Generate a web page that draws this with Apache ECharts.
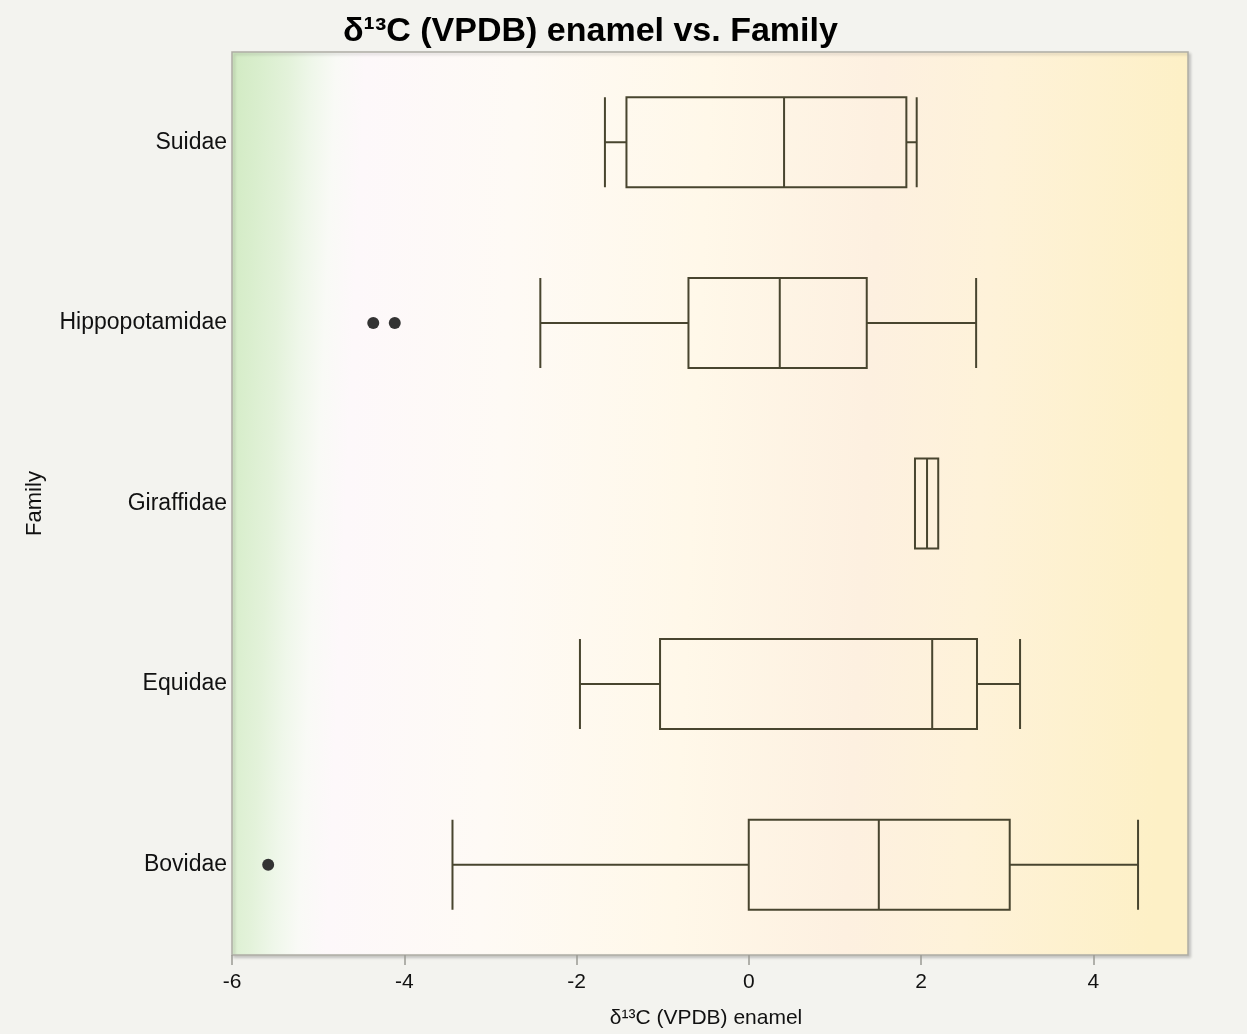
<!DOCTYPE html>
<html>
<head>
<meta charset="utf-8">
<title>δ13C (VPDB) enamel vs. Family</title>
<script src="https://cdn.jsdelivr.net/npm/echarts@6/dist/echarts.min.js"></script>
<style>
  html, body { margin: 0; padding: 0; background: #f3f3ef; }
  #chart { width: 1247px; height: 1034px; }
</style>
</head>
<body>
<div id="chart"></div>
<script>
// Families, listed bottom to top on the category axis
const families = ['Bovidae', 'Equidae', 'Giraffidae', 'Hippopotamidae', 'Suidae'];

// Five-number summaries of δ13C (VPDB) enamel per family
const lowerWhisker = [-3.44, -1.96, 1.93, -2.42, -1.67];
const quartile1    = [ 0.00, -1.03, 1.93, -0.70, -1.42];
const medianValue  = [ 1.51,  2.13, 2.07,  0.36,  0.41];
const quartile3    = [ 3.03,  2.65, 2.20,  1.37,  1.83];
const upperWhisker = [ 4.52,  3.15, 2.20,  2.64,  1.95];

// Outlying samples: [value, family]
const outlierValues   = [-5.58, -4.36, -4.11];
const outlierFamilies = ['Bovidae', 'Hippopotamidae', 'Hippopotamidae'];

// Axis ticks
const xTicks = { min: -6, max: 5.1, step: 2 };

const boxData = families.map((f, i) => [
  lowerWhisker[i], quartile1[i], medianValue[i], quartile3[i], upperWhisker[i]
]);
const outlierData = outlierValues.map((v, i) => [v, outlierFamilies[i]]);

const font = "'Liberation Sans', Arial, Helvetica, sans-serif";

const chart = echarts.init(document.getElementById('chart'));
chart.setOption({
  backgroundColor: '#f3f3ef',
  animation: false,
  title: {
    text: 'δ¹³C (VPDB) enamel vs. Family',
    left: 338,
    top: 10,
    textStyle: { fontFamily: font, fontSize: 34, fontWeight: 'bold', color: '#000' }
  },
  grid: {
    left: 232, right: 59, top: 52, bottom: 77,
    show: true,
    borderColor: '#aeada5',
    borderWidth: 1.5,
    shadowColor: 'rgba(0,0,0,0.18)',
    shadowBlur: 3,
    shadowOffsetX: 2,
    shadowOffsetY: 2,
    backgroundColor: {
      type: 'linear', x: 0, y: 0, x2: 1, y2: 0.046,
      colorStops: [
        { offset: 0.00, color: '#d1eac2' },
        { offset: 0.03, color: '#d9eecd' },
        { offset: 0.06, color: '#e3f2da' },
        { offset: 0.085, color: '#eff7ea' },
        { offset: 0.11, color: '#f9faf6' },
        { offset: 0.14, color: '#fdf8fa' },
        { offset: 0.30, color: '#fefaf5' },
        { offset: 0.50, color: '#fff8e9' },
        { offset: 0.68, color: '#fdf0e0' },
        { offset: 0.80, color: '#fef2d9' },
        { offset: 1.00, color: '#fdf0c6' }
      ]
    }
  },
  xAxis: {
    type: 'value',
    min: xTicks.min,
    max: xTicks.max,
    interval: xTicks.step,
    name: 'δ¹³C (VPDB) enamel',
    nameLocation: 'middle',
    nameGap: 53,
    nameTextStyle: { fontFamily: font, fontSize: 21, color: '#111', padding: [0, 8, 0, 0] },
    axisLine: { show: false },
    axisTick: { show: true, length: 10, lineStyle: { color: '#9a9a94', width: 1.5 } },
    axisLabel: {
      fontFamily: font, fontSize: 21, color: '#111', margin: 17,
      showMaxLabel: false
    },
    splitLine: { show: false }
  },
  yAxis: {
    type: 'category',
    data: families,
    name: 'Family',
    nameLocation: 'middle',
    nameGap: 186,
    nameRotate: 90,
    nameTextStyle: { fontFamily: font, fontSize: 22, color: '#111' },
    axisLine: { show: false },
    axisTick: { show: false },
    axisLabel: { fontFamily: font, fontSize: 23, color: '#111', margin: 5, padding: [4, 0, 0, 0] },
    splitLine: { show: false }
  },
  series: [
    {
      type: 'boxplot',
      data: boxData,
      boxWidth: [90, 90],
      itemStyle: {
        color: 'rgba(0,0,0,0)',
        borderColor: '#48452f',
        borderWidth: 2
      }
    },
    {
      type: 'scatter',
      data: outlierData,
      symbol: 'circle',
      symbolSize: 12,
      itemStyle: { color: '#333333', opacity: 1 }
    }
  ]
});
</script>
</body>
</html>
